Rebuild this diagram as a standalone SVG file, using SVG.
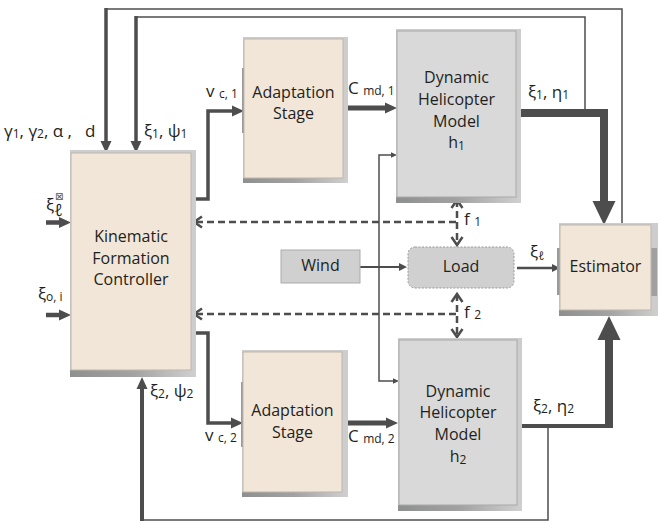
<svg xmlns="http://www.w3.org/2000/svg" width="661" height="521" viewBox="0 0 661 521">
<defs>
<style>
.tan{fill:#f2e6d8;stroke:#bdb5ac;stroke-width:1}
.gry{fill:#d9d9d9;stroke:#a9a9a9;stroke-width:1}
.gry2{fill:#d0d0d0;stroke:#ababab;stroke-width:1}
.back{fill:#cdcdcd}
.shB{fill:url(#shg)}
.t{font-family:"Open Sans","Liberation Sans",sans-serif;font-size:16px;fill:#231f20;text-anchor:middle}
.lb{font-family:"Open Sans","Liberation Sans",sans-serif;font-size:17px;fill:#231f20}
.sb{font-size:12px}
.ln{fill:none;stroke:#4d4d4d;stroke-linejoin:miter}
.thin{stroke-width:1.5}
.med{stroke-width:3.5}
.dash{fill:none;stroke:#4d4d4d;stroke-width:2.5;stroke-dasharray:7 4}
</style>
<linearGradient id="shg" x1="0" y1="0" x2="1" y2="0">
<stop offset="0" stop-color="#8e908f"/>
<stop offset="0.5" stop-color="#a2a2a2"/>
<stop offset="1" stop-color="#d0d0d0"/>
</linearGradient>
<marker id="aM" viewBox="0 -6 12 12" refX="0" refY="0" markerWidth="12" markerHeight="12" orient="auto" markerUnits="userSpaceOnUse" overflow="visible"><path d="M0,-5.5 L12,0 L0,5.5 z" fill="#4d4d4d"/></marker>
<marker id="aB" viewBox="0 -12 24 24" refX="0" refY="0" markerWidth="24" markerHeight="24" orient="auto" markerUnits="userSpaceOnUse" overflow="visible"><path d="M0,-11.5 L24,0 L0,11.5 z" fill="#4d4d4d"/></marker>
<marker id="aS" viewBox="0 -4 8 8" refX="0" refY="0" markerWidth="8" markerHeight="8" orient="auto" markerUnits="userSpaceOnUse" overflow="visible"><path d="M0,-4 L8,0 L0,4 z" fill="#4d4d4d"/></marker>
<marker id="aT" viewBox="0 -3 6 6" refX="0" refY="0" markerWidth="6" markerHeight="6" orient="auto-start-reverse" markerUnits="userSpaceOnUse" overflow="visible"><path d="M0,-2.7 L6,0 L0,2.7 z" fill="#4d4d4d"/></marker>
<marker id="chev" viewBox="-10 -6 12 12" refX="0" refY="0" markerWidth="12" markerHeight="12" orient="auto-start-reverse" markerUnits="userSpaceOnUse" overflow="visible"><path d="M-8,-5.5 L0,0 L-8,5.5" fill="none" stroke="#4d4d4d" stroke-width="2.5"/></marker>
</defs>
<rect width="661" height="521" fill="#ffffff"/>

<g id="connectors">
<path class="ln thin" d="M622,225 V9 H106"/>
<path class="ln med" d="M106,8 V141" marker-end="url(#aM)"/>
<path class="ln thin" d="M585,113 V17 H136"/>
<path class="ln med" d="M136,16 V141" marker-end="url(#aM)"/>
<path class="ln med" d="M191,199 H208 V111 H232" marker-end="url(#aM)"/>
<path class="ln" stroke-width="5" d="M343,108 H385" marker-end="url(#aM)"/>
<path class="ln" stroke-width="8" d="M516,113 H604 V201" marker-end="url(#aB)"/>
<path class="ln" stroke-width="4" d="M516,426 H613"/>
<path class="ln" stroke-width="8" d="M609,428 V340" marker-end="url(#aB)"/>
<path class="ln thin" d="M548,426 V520 H142"/>
<path class="ln" stroke-width="4" d="M142,521 V389" marker-end="url(#aM)"/>
<path class="ln med" d="M191,333 H208 V423 H231" marker-end="url(#aM)"/>
<path class="ln" stroke-width="5" d="M342,423 H386" marker-end="url(#aM)"/>
<path class="ln thin" d="M391,155 H379 V381 H393" marker-start="url(#aT)" marker-end="url(#aT)"/>
<path class="ln" stroke-width="2" d="M360,267 H399" marker-end="url(#aS)"/>
<path class="ln" stroke-width="2.5" d="M517,268 H552" marker-end="url(#aS)"/>
<path class="ln" stroke-width="4.5" d="M46,222.5 H59" marker-end="url(#aM)"/>
<path class="ln" stroke-width="4.5" d="M46,315 H59" marker-end="url(#aM)"/>
<path class="dash" d="M456,222 H194" marker-end="url(#chev)"/>
<path class="dash" d="M457,200 V245" marker-start="url(#chev)" marker-end="url(#chev)"/>
<path class="dash" d="M456,314 H194" marker-end="url(#chev)"/>
<path class="dash" d="M457,294 V337" marker-start="url(#chev)" marker-end="url(#chev)"/>
</g>

<g id="kfc">
<rect class="back" x="70" y="150" width="126" height="227"/>
<rect class="shB" x="70" y="370" width="126" height="7"/>
<rect class="tan" x="71" y="153" width="120" height="217"/>
<text class="t" x="131" y="242">Kinematic</text>
<text class="t" x="131" y="263.5">Formation</text>
<text class="t" x="131" y="285">Controller</text>
</g>

<g id="adapt1">
<rect class="back" x="243" y="37" width="105" height="146"/>
<rect class="shB" x="243" y="178" width="105" height="5"/>
<rect x="242" y="68" width="3" height="65" fill="#9a9a9a"/>
<rect class="tan" x="244" y="39" width="99" height="139"/>
<text class="t" x="293.5" y="98">Adaptation</text>
<text class="t" x="293.5" y="119">Stage</text>
</g>

<g id="adapt2">
<rect class="back" x="242" y="350" width="106" height="147"/>
<rect class="shB" x="242" y="492" width="106" height="5"/>
<rect x="241" y="382" width="3" height="65" fill="#9a9a9a"/>
<rect class="tan" x="243" y="352" width="99" height="140"/>
<text class="t" x="292.5" y="416">Adaptation</text>
<text class="t" x="292.5" y="438">Stage</text>
</g>

<g id="heli1">
<rect class="back" x="396" y="29" width="125" height="174"/>
<rect class="shB" x="396" y="197" width="125" height="6"/>
<rect class="gry" x="397" y="31" width="119" height="166"/>
<text class="t" x="456.5" y="83">Dynamic</text>
<text class="t" x="456.5" y="105">Helicopter</text>
<text class="t" x="456.5" y="127">Model</text>
<text class="t" x="456.5" y="148">h<tspan class="sb" dy="2">1</tspan></text>
</g>

<g id="heli2">
<rect class="back" x="398" y="338" width="124" height="173"/>
<rect class="shB" x="398" y="505" width="124" height="6"/>
<rect class="gry" x="399" y="340" width="118" height="165"/>
<text class="t" x="458" y="397">Dynamic</text>
<text class="t" x="458" y="418">Helicopter</text>
<text class="t" x="458" y="440">Model</text>
<text class="t" x="458" y="462">h<tspan class="sb" dy="2">2</tspan></text>
</g>

<g id="estimator">
<rect class="back" x="559" y="223" width="99" height="93"/>
<rect class="shB" x="559" y="310" width="99" height="6"/>
<rect x="557" y="248" width="4" height="47" fill="#9a9a9a"/>
<rect x="651" y="248" width="6" height="48" fill="#a0a0a0"/>
<rect class="tan" x="560" y="225" width="91" height="85"/>
<text class="t" x="605.5" y="272">Estimator</text>
</g>

<g id="wind">
<rect class="gry2" x="281" y="250" width="79" height="33"/>
<text class="t" x="320.5" y="271">Wind</text>
</g>

<g id="load">
<rect x="408" y="247" width="106" height="41" rx="7" fill="#d0d0d0" stroke="#9a9a9a" stroke-width="1" stroke-dasharray="2 1.5"/>
<text class="t" x="461" y="272">Load</text>
</g>

<g id="labels">
<text class="lb" x="4" y="137">γ<tspan class="sb" dy="1">1</tspan><tspan dy="-1">, γ</tspan><tspan class="sb" dy="1">2</tspan><tspan dy="-1">, α ,</tspan><tspan x="85">d</tspan></text>
<text class="lb" x="144" y="137">ξ<tspan class="sb" dy="1">1</tspan><tspan dy="-1">, ψ</tspan><tspan class="sb" dy="1">1</tspan></text>
<text class="lb" x="206" y="97">v <tspan class="sb" dy="1">c, 1</tspan></text>
<text class="lb" x="348" y="94">C <tspan class="sb" dy="1">md, 1</tspan></text>
<text class="lb" x="528" y="98">ξ<tspan class="sb" dy="1">1</tspan><tspan dy="-1">, η</tspan><tspan class="sb" dy="1">1</tspan></text>
<text class="lb" x="464" y="225">f <tspan class="sb" dy="1">1</tspan></text>
<text class="lb" x="464" y="318">f <tspan class="sb" dy="1">2</tspan></text>
<text class="lb" x="530" y="258">ξ<tspan class="sb" dy="2">ℓ</tspan></text>
<text class="lb" x="533" y="412">ξ<tspan class="sb" dy="1">2</tspan><tspan dy="-1">, η</tspan><tspan class="sb" dy="1">2</tspan></text>
<text class="lb" x="150" y="397">ξ<tspan class="sb" dy="1">2</tspan><tspan dy="-1">, ψ</tspan><tspan class="sb" dy="1">2</tspan></text>
<text class="lb" x="205" y="441">v <tspan class="sb" dy="1">c, 2</tspan></text>
<text class="lb" x="348" y="442">C <tspan class="sb" dy="1">md, 2</tspan></text>
<text class="lb" x="46" y="211">ξ</text>
<text x="55" y="200" font-family="DejaVu Sans,sans-serif" font-size="10px" fill="#555555">⊠</text>
<text class="lb" x="54" y="216" font-size="10px">ℓ</text>
<text class="lb" x="38" y="300">ξ<tspan class="sb" dy="1">o, i</tspan></text>
</g>
</svg>
